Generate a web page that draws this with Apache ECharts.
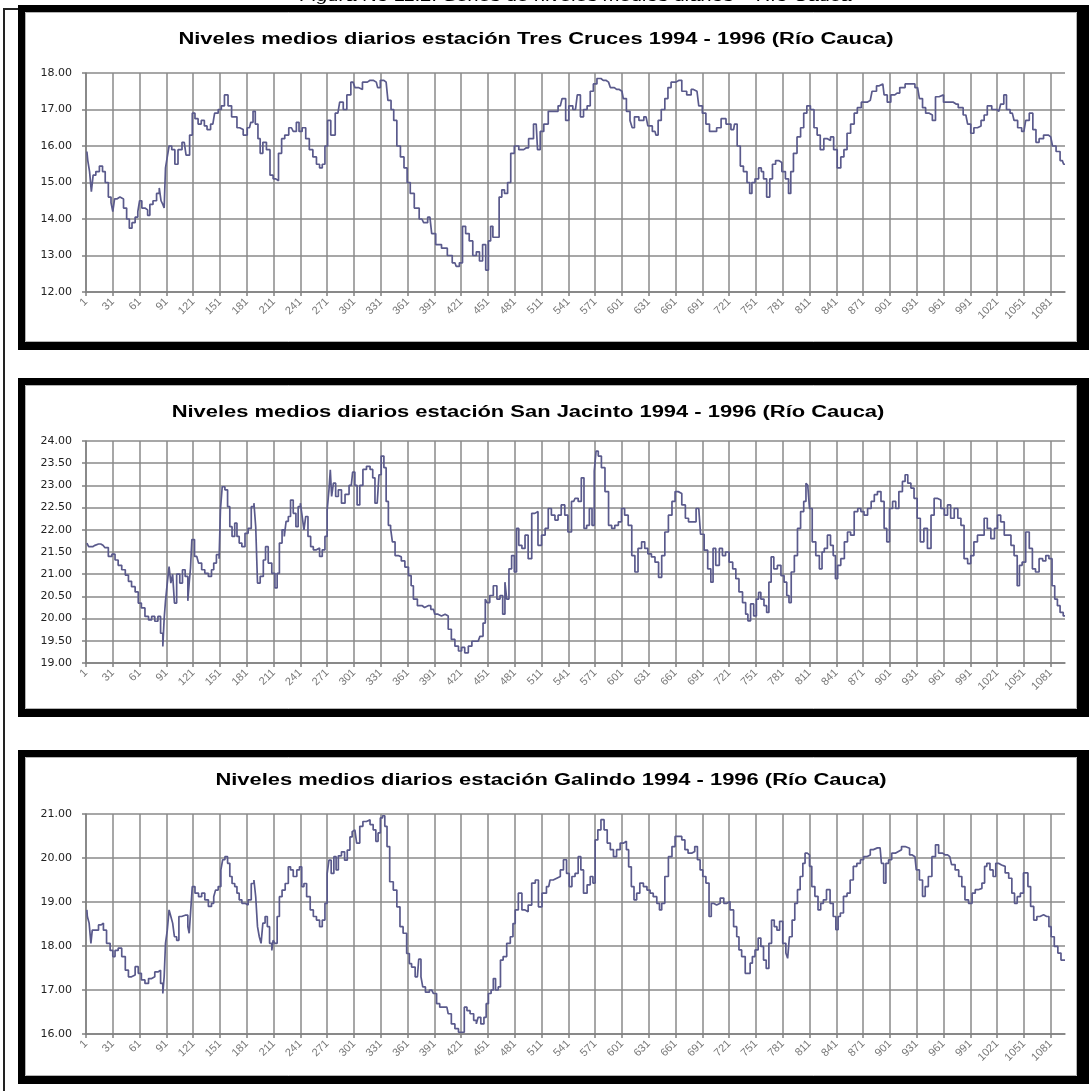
<!DOCTYPE html>
<html>
<head>
<meta charset="utf-8">
<title>Series de niveles medios diarios - Río Cauca</title>
<script src="https://cdn.jsdelivr.net/npm/echarts@6/dist/echarts.min.js"></script>
<style>
  html, body { margin: 0; padding: 0; background: #fff; }
  #niveles { width: 1089px; height: 1091px; }
</style>
</head>
<body>
<div id="niveles"></div>
<script>
// etiquetas del eje X: día del período (1994 - 1996)
var dayTicks = [1, 31, 61, 91, 121, 151, 181, 211, 241, 271, 301, 331, 361, 391, 421, 451, 481, 511,
  541, 571, 601, 631, 661, 691, 721, 751, 781, 811, 841, 871, 901, 931, 961, 991, 1021, 1051, 1081];
var totalDays = 1096;

var titles = [
  'Niveles medios diarios estación Tres Cruces 1994 - 1996 (Río Cauca)',
  'Niveles medios diarios estación San Jacinto 1994 - 1996 (Río Cauca)',
  'Niveles medios diarios estación Galindo 1994 - 1996 (Río Cauca)'
];
var caption = 'Figura No 11.2. Series de niveles medios diarios – Río Cauca';

// rango del eje Y de cada estación
var yMin = [12, 19, 16];
var yMax = [18, 24, 21];
var yStep = [1, 0.5, 1];

// niveles: [día, nivel]
var tresCruces = [[1,15.85],[3,15.6],[5,15.3],[7,14.75],[9,15.2],[13,15.3],[17,15.45],[20,15.3],[23,15.0],[27,14.6],[29,14.45],[31,14.2],[33,14.55],[36,14.6],[40,14.55],[44,14.3],[47,14.0],[50,13.75],[53,13.9],[57,14.05],[59,14.2],[61,14.5],[64,14.3],[68,14.25],[70,14.1],[73,14.4],[77,14.5],[81,14.7],[83,14.85],[85,14.5],[87,14.4],[88,14.3],[90,15.4],[92,15.7],[94,16.0],[98,15.9],[101,15.5],[105,15.9],[110,16.1],[114,15.75],[118,16.3],[120,16.9],[124,16.75],[127,16.6],[131,16.7],[134,16.55],[137,16.45],[142,16.6],[146,16.9],[150,17.0],[153,17.1],[157,17.4],[161,17.1],[165,16.8],[168,16.8],[170,16.5],[174,16.45],[178,16.3],[183,16.5],[186,16.65],[188,16.95],[191,16.6],[194,16.2],[196,15.8],[200,16.1],[204,15.9],[208,15.2],[211,15.1],[214,15.05],[217,15.8],[221,16.2],[224,16.3],[230,16.5],[234,16.4],[237,16.65],[240,16.4],[244,16.5],[248,16.2],[252,15.9],[256,15.7],[260,15.5],[263,15.4],[266,15.5],[269,16.0],[272,16.7],[276,16.3],[282,16.9],[286,17.2],[290,17.0],[294,17.4],[299,17.75],[303,17.6],[307,17.55],[312,17.75],[318,17.8],[325,17.75],[328,17.6],[331,17.8],[336,17.75],[340,17.25],[343,17.0],[346,16.7],[350,16.0],[354,15.7],[358,15.4],[361,15.0],[365,14.7],[370,14.3],[376,14.0],[380,13.9],[385,14.05],[389,13.6],[394,13.3],[402,13.2],[407,13.0],[413,12.8],[416,12.7],[420,12.8],[423,13.8],[427,13.6],[431,13.4],[435,13.0],[439,13.1],[442,12.85],[446,13.3],[449,12.6],[452,13.4],[454,13.8],[457,13.5],[461,13.5],[464,14.6],[467,14.8],[470,14.7],[474,15.0],[477,15.8],[482,16.0],[487,15.9],[493,15.95],[498,16.2],[504,16.6],[507,15.9],[510,16.4],[515,16.6],[520,16.95],[526,16.95],[531,17.1],[535,17.3],[539,16.7],[542,17.1],[548,17.0],[552,17.4],[555,16.8],[559,17.0],[563,17.1],[566,17.5],[570,17.7],[574,17.85],[579,17.8],[585,17.75],[589,17.6],[594,17.55],[600,17.5],[603,17.3],[607,16.95],[611,16.7],[612,16.5],[616,16.8],[622,16.7],[627,16.8],[631,16.55],[637,16.4],[639,16.3],[642,16.7],[646,17.0],[650,17.3],[653,17.6],[657,17.75],[664,17.8],[670,17.5],[675,17.4],[680,17.55],[684,17.5],[688,17.1],[692,16.9],[696,16.6],[700,16.4],[704,16.4],[708,16.5],[714,16.75],[719,16.6],[725,16.45],[727,16.6],[731,16.0],[734,15.45],[738,15.3],[742,15.0],[744,14.7],[747,15.0],[751,15.1],[755,15.4],[757,15.3],[760,15.1],[764,14.6],[767,15.1],[770,15.5],[774,15.6],[777,15.55],[781,15.3],[785,15.1],[788,14.7],[790,15.3],[794,15.8],[798,16.25],[802,16.5],[805,16.9],[809,17.1],[813,17.0],[817,16.5],[820,16.3],[824,15.9],[828,16.2],[832,16.15],[835,16.25],[839,15.9],[843,15.4],[847,15.7],[850,15.9],[854,16.35],[858,16.6],[862,16.9],[865,17.05],[871,17.2],[878,17.25],[882,17.5],[888,17.65],[892,17.7],[895,17.4],[899,17.2],[903,17.4],[908,17.45],[914,17.6],[920,17.7],[925,17.7],[931,17.6],[935,17.3],[938,17.05],[942,16.9],[946,16.85],[949,16.7],[953,17.35],[957,17.4],[963,17.2],[968,17.2],[974,17.15],[979,17.05],[985,16.85],[989,16.6],[992,16.35],[996,16.5],[1000,16.55],[1004,16.7],[1007,16.85],[1011,17.1],[1017,17.0],[1022,16.95],[1026,17.15],[1029,17.4],[1032,17.0],[1037,16.9],[1041,16.7],[1045,16.5],[1050,16.4],[1054,16.7],[1058,16.9],[1062,16.45],[1065,16.1],[1069,16.2],[1075,16.3],[1080,16.25],[1084,16.0],[1088,15.85],[1093,15.6],[1096,15.5]];

var sanJacinto = [[1,21.7],[5,21.62],[10,21.65],[14,21.68],[19,21.65],[23,21.6],[27,21.4],[31,21.45],[34,21.32],[38,21.2],[42,21.1],[46,20.98],[49,20.84],[53,20.72],[57,20.6],[60,20.35],[64,20.24],[68,20.05],[72,19.97],[75,20.05],[79,19.94],[82,20.05],[85,19.67],[87,19.37],[88,20.0],[90,20.4],[92,20.8],[94,21.17],[96,20.8],[98,21.0],[100,20.35],[103,21.0],[107,20.8],[109,21.1],[113,20.95],[115,20.4],[116,20.8],[118,21.14],[119,21.78],[124,21.4],[128,21.25],[131,21.1],[135,21.02],[139,20.95],[142,21.1],[144,21.25],[148,21.44],[150,21.35],[151,22.45],[154,22.97],[157,22.9],[160,22.52],[162,22.07],[165,21.85],[168,22.15],[170,21.85],[173,21.7],[176,21.62],[180,21.92],[183,22.03],[187,22.52],[189,22.6],[191,22.07],[193,20.8],[197,20.95],[200,21.32],[202,21.62],[206,21.25],[210,21.02],[213,20.69],[215,21.02],[218,21.7],[221,22.0],[223,21.85],[225,22.19],[228,22.3],[230,22.67],[234,22.37],[236,22.07],[239,22.52],[241,22.6],[243,22.3],[245,22.0],[247,22.3],[250,21.85],[253,21.62],[256,21.55],[260,21.59],[263,21.4],[266,21.55],[269,21.85],[271,22.45],[273,22.9],[274,23.35],[276,22.75],[278,23.05],[281,22.75],[284,22.9],[288,22.6],[292,22.8],[297,23.0],[300,23.3],[302,23.0],[305,22.56],[308,23.0],[312,23.36],[316,23.43],[320,23.36],[322,23.17],[325,22.6],[327,22.56],[329,23.24],[332,23.66],[335,23.4],[337,22.64],[340,22.1],[342,22.03],[344,21.73],[348,21.42],[351,21.39],[355,21.3],[359,21.16],[363,20.97],[365,20.74],[368,20.44],[374,20.29],[379,20.25],[383,20.29],[389,20.21],[392,20.1],[396,20.06],[400,20.1],[404,20.06],[407,19.76],[411,19.53],[415,19.38],[419,19.27],[422,19.35],[426,19.23],[430,19.38],[434,19.49],[439,19.49],[443,19.6],[446,19.9],[448,20.44],[450,20.36],[454,20.52],[458,20.74],[462,20.44],[465,20.52],[468,20.1],[470,20.82],[472,20.44],[475,21.12],[478,21.42],[481,21.05],[483,22.03],[486,21.65],[490,21.58],[493,21.88],[497,21.35],[501,22.37],[504,22.41],[508,21.65],[512,21.88],[516,22.03],[519,22.48],[523,22.33],[527,22.22],[530,22.33],[534,22.56],[538,22.33],[541,21.95],[546,22.64],[549,22.71],[553,22.64],[556,23.17],[559,22.03],[562,22.1],[565,22.48],[568,22.1],[570,23.32],[572,23.77],[575,23.66],[579,23.4],[583,22.86],[587,22.1],[590,22.03],[594,22.1],[598,22.18],[601,22.48],[605,22.33],[609,22.1],[613,21.42],[616,21.05],[620,21.58],[624,21.73],[627,21.58],[631,21.46],[635,21.39],[639,21.27],[643,20.93],[646,21.42],[650,21.95],[654,22.33],[658,22.64],[661,22.86],[665,22.82],[669,22.56],[673,22.26],[676,22.18],[680,22.18],[686,22.48],[690,21.9],[694,21.54],[698,21.12],[701,20.82],[703,21.58],[707,21.2],[711,21.58],[714,21.42],[718,21.5],[722,21.27],[726,21.12],[729,20.9],[733,20.6],[737,20.36],[740,20.1],[742,19.95],[746,20.33],[749,20.06],[752,20.44],[754,20.59],[757,20.44],[761,20.29],[763,20.14],[766,20.82],[768,21.39],[772,21.12],[776,21.2],[780,20.97],[783,20.82],[786,20.52],[788,20.36],[791,21.05],[795,21.42],[798,22.03],[802,22.41],[805,22.64],[807,23.05],[809,23.0],[811,22.48],[815,21.73],[819,21.42],[823,21.12],[825,21.5],[828,21.58],[832,21.88],[835,21.65],[838,21.42],[840,20.9],[843,21.2],[847,21.35],[851,21.73],[854,21.95],[858,21.88],[862,22.41],[866,22.48],[869,22.41],[873,22.33],[877,22.48],[881,22.64],[884,22.79],[888,22.86],[892,22.64],[895,22.03],[898,21.73],[901,22.48],[905,22.64],[908,22.48],[912,22.86],[916,23.09],[918,23.24],[922,23.05],[925,22.94],[929,22.71],[932,22.26],[936,21.73],[940,22.03],[944,21.58],[948,22.33],[951,22.71],[955,22.67],[959,22.48],[963,22.33],[966,22.56],[970,22.26],[974,22.48],[978,22.26],[981,22.1],[985,21.35],[989,21.24],[992,21.42],[996,21.73],[1000,21.88],[1004,21.88],[1007,22.26],[1011,22.03],[1015,21.8],[1019,22.03],[1022,22.33],[1026,22.18],[1030,21.88],[1034,21.88],[1037,21.65],[1041,21.42],[1044,20.74],[1046,21.2],[1050,21.27],[1054,21.95],[1058,21.58],[1061,21.12],[1065,21.05],[1069,21.35],[1073,21.3],[1076,21.42],[1080,21.35],[1083,20.74],[1086,20.44],[1089,20.29],[1092,20.14],[1096,20.06]];

var galindo = [[1,18.82],[2,18.67],[5,18.52],[6,18.06],[8,18.36],[12,18.36],[16,18.48],[18,18.52],[21,18.36],[25,18.06],[29,17.9],[31,17.76],[34,17.9],[38,17.95],[42,17.76],[46,17.45],[49,17.3],[53,17.34],[57,17.53],[60,17.38],[64,17.23],[68,17.15],[72,17.26],[75,17.3],[79,17.41],[82,17.45],[85,17.15],[87,16.92],[88,17.3],[90,18.06],[92,18.36],[94,18.82],[96,18.67],[98,18.52],[100,18.21],[103,18.13],[105,18.67],[109,18.7],[113,18.7],[115,18.44],[116,18.29],[118,18.74],[120,19.35],[124,19.2],[128,19.12],[131,19.2],[135,19.05],[139,18.9],[142,18.97],[144,19.12],[146,19.27],[150,19.35],[152,19.73],[154,19.96],[157,20.03],[160,19.88],[162,19.58],[165,19.42],[168,19.35],[170,19.2],[173,19.05],[176,18.97],[180,18.93],[183,19.05],[187,19.42],[189,19.5],[191,19.12],[193,18.44],[195,18.21],[197,18.06],[199,18.52],[202,18.67],[204,18.44],[207,18.06],[209,17.9],[210,18.13],[213,18.06],[215,18.67],[218,19.12],[221,19.27],[225,19.42],[228,19.8],[230,19.73],[234,19.58],[238,19.73],[240,19.8],[243,19.35],[245,19.42],[249,19.12],[253,18.82],[256,18.67],[260,18.59],[263,18.44],[266,18.59],[269,18.97],[271,19.65],[273,19.95],[276,19.65],[279,20.03],[281,19.73],[284,20.05],[288,20.14],[291,19.95],[294,20.18],[297,20.48],[299,20.6],[301,20.64],[305,20.34],[308,20.72],[312,20.83],[316,20.87],[320,20.76],[323,20.64],[326,20.38],[328,20.57],[331,20.91],[333,20.96],[336,20.72],[338,20.26],[342,19.46],[346,19.27],[350,18.89],[353,18.44],[357,18.29],[361,17.83],[363,17.6],[366,17.52],[371,17.3],[374,17.7],[376,17.3],[378,17.07],[382,16.95],[387,17.0],[391,16.92],[394,16.69],[398,16.61],[404,16.61],[407,16.46],[411,16.23],[415,16.12],[419,16.04],[422,16.04],[425,16.61],[428,16.53],[432,16.46],[436,16.31],[438,16.23],[440,16.38],[444,16.23],[447,16.38],[449,16.69],[452,16.92],[455,17.0],[457,17.26],[460,17.0],[463,17.07],[465,17.68],[469,17.76],[473,18.06],[477,18.21],[479,18.51],[482,18.82],[486,19.2],[490,18.82],[493,18.78],[497,18.93],[501,19.43],[505,19.5],[508,18.89],[513,19.2],[518,19.35],[521,19.5],[525,19.54],[529,19.58],[533,19.73],[536,19.96],[540,19.65],[542,19.35],[546,19.58],[549,19.65],[553,20.03],[555,19.73],[559,19.2],[563,19.39],[566,19.58],[569,19.43],[571,20.41],[575,20.64],[578,20.87],[582,20.64],[585,20.34],[589,20.19],[592,20.03],[596,20.19],[600,20.34],[604,20.38],[606,20.19],[609,19.8],[612,19.35],[615,19.05],[618,19.2],[622,19.43],[626,19.35],[630,19.27],[633,19.2],[637,19.12],[641,18.97],[643,18.82],[646,18.97],[650,19.58],[654,20.03],[658,20.26],[661,20.49],[665,20.49],[669,20.41],[672,20.19],[676,20.11],[680,20.15],[683,20.26],[686,19.96],[689,19.73],[692,19.58],[696,19.43],[699,18.67],[701,18.97],[704,18.93],[708,18.97],[712,19.09],[716,18.97],[719,19.01],[723,18.82],[727,18.44],[730,18.21],[732,17.91],[736,17.76],[740,17.38],[742,17.38],[745,17.61],[747,17.76],[751,17.91],[754,18.18],[757,17.99],[760,17.68],[763,17.49],[766,18.06],[769,18.59],[772,18.44],[775,18.36],[778,18.56],[782,18.06],[785,17.84],[786,17.72],[789,18.21],[792,18.59],[795,18.97],[798,19.28],[801,19.58],[804,19.88],[806,20.11],[809,20.07],[811,19.81],[814,19.35],[818,19.13],[821,18.82],[824,18.97],[827,19.05],[831,19.28],[835,18.97],[838,18.67],[841,18.37],[843,18.67],[846,18.75],[850,19.13],[854,19.2],[857,19.5],[861,19.81],[865,19.88],[869,19.96],[872,20.03],[876,20.07],[880,20.19],[883,20.23],[889,20.23],[892,19.88],[894,19.43],[897,19.88],[900,19.96],[904,20.11],[908,20.15],[911,20.19],[915,20.26],[919,20.22],[925,20.07],[928,20.03],[931,19.73],[935,19.5],[938,19.13],[941,19.35],[945,19.58],[949,20.03],[953,20.3],[956,20.11],[962,20.07],[967,20.03],[971,19.85],[975,19.73],[979,19.58],[982,19.35],[986,19.05],[990,18.97],[994,19.2],[997,19.28],[1001,19.31],[1005,19.43],[1007,19.81],[1010,19.88],[1014,19.73],[1017,19.58],[1020,19.88],[1023,19.84],[1027,19.81],[1031,19.66],[1035,19.54],[1038,19.2],[1041,18.97],[1044,19.12],[1048,19.2],[1051,19.66],[1053,19.66],[1056,19.35],[1059,18.9],[1063,18.59],[1066,18.67],[1070,18.71],[1074,18.67],[1077,18.67],[1079,18.44],[1082,18.21],[1086,17.99],[1090,17.84],[1093,17.68],[1096,17.68]];

var stations = [tresCruces, sanJacinto, galindo];

var chart = echarts.init(document.getElementById('niveles'));

// posición de cada panel (marco, título y área de trazado)
var panels = [
  { boxTop: 5, boxBottom: 350, titleX: 536, titleY: 40, gridTop: 73, gridHeight: 219 },
  { boxTop: 378, boxBottom: 717, titleX: 528, titleY: 413, gridTop: 441, gridHeight: 222 },
  { boxTop: 750, boxBottom: 1084, titleX: 551, titleY: 781, gridTop: 814, gridHeight: 220 }
];
var gridColor = '#8a8a8a';
var lineColor = '#5a5a8c';

function frame(top, bottom) {
  var l = 18, r = 1089;
  return [
    { type: 'rect', shape: { x: l, y: top, width: r - l, height: 7 }, style: { fill: '#000' } },
    { type: 'rect', shape: { x: l, y: bottom - 8, width: r - l, height: 8 }, style: { fill: '#000' } },
    { type: 'rect', shape: { x: l, y: top, width: 7, height: bottom - top }, style: { fill: '#000' } },
    { type: 'rect', shape: { x: r - 12, y: top, width: 12, height: bottom - top }, style: { fill: '#000' } },
    { type: 'rect', shape: { x: l + 7.5, y: top + 7.5, width: r - l - 20, height: bottom - top - 16 },
      style: { fill: 'none', stroke: '#b4b4b4', lineWidth: 1 } }
  ];
}

var graphics = [
  { type: 'rect', shape: { x: 3, y: 8, width: 2, height: 1083 }, style: { fill: '#222' } },
  { type: 'rect', shape: { x: 3, y: 8, width: 15, height: 2 }, style: { fill: '#222' } },
  { type: 'text', x: 576, y: 4, scaleX: 1.35,
    style: { text: caption, font: 'italic 15px "Liberation Sans", Arial, sans-serif', fill: '#000',
      textAlign: 'center', align: 'center', textVerticalAlign: 'bottom', verticalAlign: 'bottom' } }
];

var grids = [], xAxes = [], yAxes = [], seriesList = [];

panels.forEach(function (p, i) {
  graphics = graphics.concat(frame(p.boxTop, p.boxBottom));
  graphics.push({
    type: 'text', x: p.titleX, y: p.titleY, scaleX: 1.37,
    style: { text: titles[i], font: 'bold 16px "Liberation Sans", Arial, sans-serif', fill: '#000',
      textAlign: 'center', align: 'center', textVerticalAlign: 'middle', verticalAlign: 'middle' }
  });

  grids.push({ left: 86, right: 24, top: p.gridTop, height: p.gridHeight, containLabel: false });

  xAxes.push({
    gridIndex: i,
    type: 'value',
    min: 0,
    max: totalDays,
    interval: 30,
    axisLine: { show: true, onZero: false, lineStyle: { color: '#808080', width: 1.5 } },
    axisTick: { show: true, length: 4, lineStyle: { color: '#808080', width: 1.5 } },
    axisLabel: {
      rotate: 45,
      margin: 8,
      fontSize: 11,
      fontFamily: '"Liberation Sans", Arial, sans-serif',
      color: '#777',
      showMaxLabel: false,
      formatter: function (v) {
        return dayTicks.indexOf(v + 1) >= 0 ? String(v + 1) : '';
      }
    },
    splitLine: { show: true, showMaxLine: false, lineStyle: { color: gridColor, width: 1.5 } }
  });

  yAxes.push({
    gridIndex: i,
    type: 'value',
    min: yMin[i],
    max: yMax[i],
    interval: yStep[i],
    axisLine: { show: true, lineStyle: { color: '#808080', width: 1.5 } },
    axisTick: { show: true, length: 4, lineStyle: { color: '#808080', width: 1.5 } },
    axisLabel: {
      margin: 14,
      fontSize: 11,
      fontFamily: '"DejaVu Sans", sans-serif',
      color: '#222',
      formatter: function (v) { return v.toFixed(2); }
    },
    splitLine: { show: true, lineStyle: { color: gridColor, width: 1.5 } }
  });

  seriesList.push({
    type: 'line',
    xAxisIndex: i,
    yAxisIndex: i,
    data: stations[i],
    step: 'middle',
    showSymbol: false,
    symbol: 'none',
    lineStyle: { color: lineColor, width: 1.7 }
  });
});

chart.setOption({
  animation: false,
  backgroundColor: '#fff',
  graphic: { elements: graphics },
  grid: grids,
  xAxis: xAxes,
  yAxis: yAxes,
  series: seriesList
});
window.addEventListener('resize', chart.resize);
</script>
</body>
</html>
